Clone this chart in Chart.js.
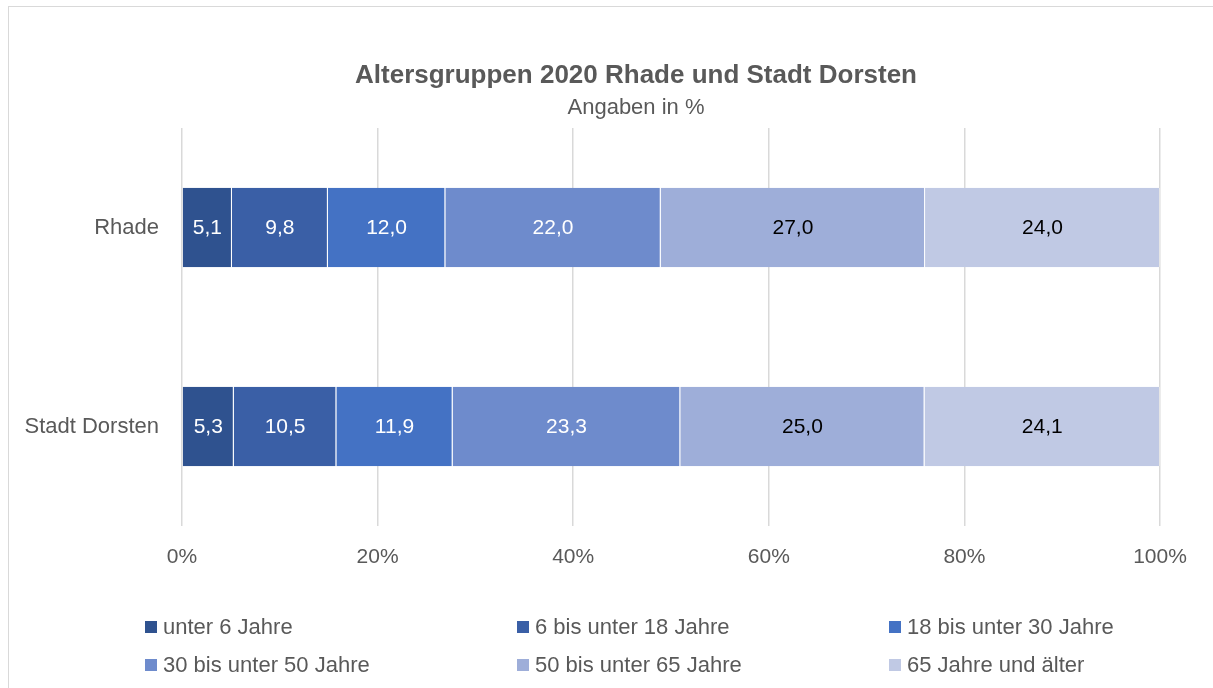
<!DOCTYPE html>
<html>
<head>
<meta charset="utf-8">
<script src="https://cdn.jsdelivr.net/npm/chart.js@4"></script>
<style>
    html, body { margin: 0; padding: 0; background: #fff; overflow: hidden; }
    body { width: 1213px; height: 688px; position: relative; }
    #rahmen {
        position: absolute; left: 8px; top: 6px; width: 1254px; height: 720px;
        border: 1px solid #d9d9d9; box-sizing: border-box;
    }
    #wrap { position: absolute; left: 0; top: 0; width: 1252px; height: 700px; }
    #legende {
        position: absolute; left: 0; top: 0; width: 1252px; height: 720px;
        font-family: "Liberation Sans", Arial, sans-serif;
        font-size: 22px; color: #595959;
    }
    .item { position: absolute; display: flex; align-items: center; white-space: nowrap; }
    .box { width: 12px; height: 12px; margin-right: 6px; }
</style>
</head>
<body>
<div id="rahmen">
    <div id="wrap"><canvas id="grafik"></canvas></div>
    <div id="legende"></div>
</div>
<script>
const kategorien = ["Rhade", "Stadt Dorsten"];
const gruppen = [
    "unter 6 Jahre",
    "6 bis unter 18 Jahre",
    "18 bis unter 30 Jahre",
    "30 bis unter 50 Jahre",
    "50 bis unter 65 Jahre",
    "65 Jahre und älter"
];
// Werte je Altersgruppe: [Rhade, Stadt Dorsten]
const unter6 = [5.1, 5.3];
const von6bis18 = [9.8, 10.5];
const von18bis30 = [12.0, 11.9];
const von30bis50 = [22.0, 23.3];
const von50bis65 = [27.0, 25.0];
const ab65 = [24.0, 24.1];
const tickWerte = [0, 20, 40, 60, 80, 100];

const TITEL = "Altersgruppen 2020 Rhade und Stadt Dorsten";
const UNTERTITEL = "Angaben in %";

const werte = [unter6, von6bis18, von18bis30, von30bis50, von50bis65, ab65];
const farben = ["#2f528f", "#3a5fa6", "#4472c4", "#6e8bcc", "#9eaed9", "#c0c9e4"];
const textFarben = ["#fff", "#fff", "#fff", "#fff", "#000", "#000"];

const SCHRIFT = '"Liberation Sans", Arial, sans-serif';
const GRAU = "#595959";

// 100%-gestapelt: jede Kategorie auf ihre Summe normieren
const summen = kategorien.map((_, i) => werte.reduce((s, w) => s + w[i], 0));

const datasets = gruppen.map((g, k) => ({
    label: g,
    data: werte[k].map((w, i) => w / summen[i] * 100),
    roh: werte[k],
    backgroundColor: farben[k],
    borderColor: "rgba(255,255,255,0.35)",
    borderWidth: { left: 0, right: 1, top: 0, bottom: 0 },
    borderSkipped: false,
    barPercentage: 0.8,
    categoryPercentage: 0.5
}));

const werteBeschriftung = {
    id: "werteBeschriftung",
    afterDatasetsDraw(chart) {
        const ctx = chart.ctx;
        ctx.save();
        ctx.font = `21px ${SCHRIFT}`;
        ctx.textAlign = "center";
        ctx.textBaseline = "middle";
        chart.data.datasets.forEach((ds, k) => {
            const meta = chart.getDatasetMeta(k);
            meta.data.forEach((bar, i) => {
                const mitte = (bar.x + bar.base) / 2;
                ctx.fillStyle = textFarben[k];
                ctx.fillText(ds.roh[i].toFixed(1).replace(".", ","), mitte, bar.y + 1);
            });
        });
        ctx.restore();
    }
};

// Titel mittig über dem ganzen Rahmen (nicht nur über der Zeichenfläche)
const titelZeichnen = {
    id: "titelZeichnen",
    afterDraw(chart) {
        const ctx = chart.ctx;
        const mitteX = chart.width / 2 + 1;
        ctx.save();
        ctx.fillStyle = GRAU;
        ctx.textAlign = "center";
        ctx.textBaseline = "middle";
        ctx.font = `bold 26px ${SCHRIFT}`;
        ctx.fillText(TITEL, mitteX, 69);
        ctx.font = `22px ${SCHRIFT}`;
        ctx.fillText(UNTERTITEL, mitteX, 101);
        ctx.restore();
    }
};

new Chart(document.getElementById("grafik"), {
    type: "bar",
    data: { labels: kategorien, datasets: datasets },
    options: {
        indexAxis: "y",
        responsive: true,
        maintainAspectRatio: false,
        animation: false,
        layout: { padding: { left: 0, right: 101, top: 121, bottom: 121 } },
        scales: {
            x: {
                stacked: true,
                min: 0,
                max: 100,
                afterBuildTicks: (s) => { s.ticks = tickWerte.map(v => ({ value: v })); },
                afterFit: (s) => { s.height = 60; },
                ticks: {
                    color: GRAU,
                    font: { family: SCHRIFT, size: 21 },
                    padding: 19,
                    callback: (v) => v + "%"
                },
                grid: { color: "#d9d9d9", lineWidth: 1.5, drawTicks: false },
                border: { display: false }
            },
            y: {
                stacked: true,
                afterFit: (s) => { s.width = 173; },
                ticks: {
                    color: GRAU,
                    font: { family: SCHRIFT, size: 22 },
                    padding: 23
                },
                grid: { display: false, drawTicks: false },
                border: { display: false }
            }
        },
        plugins: {
            legend: { display: false },
            tooltip: { enabled: false },
            title: { display: false },
            subtitle: { display: false }
        }
    },
    plugins: [werteBeschriftung, titelZeichnen]
});

// Legende in drei Spalten, zwei Zeilen
const legende = document.getElementById("legende");
gruppen.forEach((g, k) => {
    const spalte = k % 3, zeile = Math.floor(k / 3);
    const el = document.createElement("div");
    el.className = "item";
    el.style.left = (136 + spalte * 372) + "px";
    el.style.top = (607 + zeile * 38) + "px";
    el.innerHTML = `<span class="box" style="background:${farben[k]}"></span><span>${g}</span>`;
    legende.appendChild(el);
});
</script>
</body>
</html>
